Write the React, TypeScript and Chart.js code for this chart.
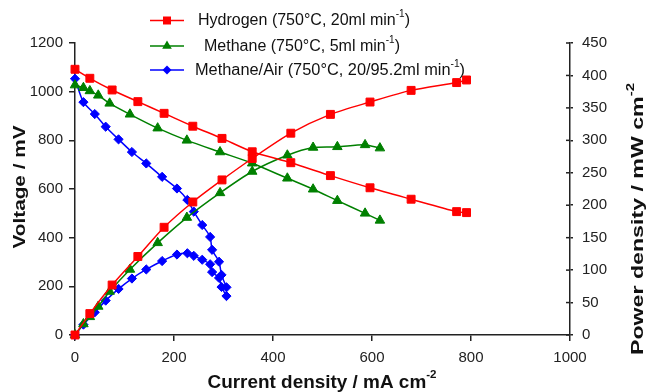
import React, { useEffect, useRef } from "react";
import { Chart, registerables } from "chart.js";

Chart.register(...registerables);

// ---- Data ----
const h2Current = [0, 30, 75, 127, 180, 238, 297, 358, 436, 516, 596, 679, 771, 791];
const h2Voltage = [1092, 1055, 1007, 959, 911, 858, 808, 753, 708, 655, 605, 558, 507, 503];
const h2Power = [0, 33, 77, 121, 166, 205, 239, 272, 311, 340, 359, 377, 389, 393];

const ch4Current = [0, 17, 30, 47, 70, 111, 167, 226, 293, 358, 429, 481, 530, 586, 616];
const ch4Voltage = [1027, 1016, 1003, 985, 952, 907, 850, 800, 752, 706, 644, 599, 552, 500, 471];
const ch4Power = [0, 17, 28, 44, 67, 101, 142, 181, 219, 252, 277, 289, 290, 293, 288];

const airCurrent = [0, 17, 40, 62, 88, 115, 144, 176, 206, 227, 240, 257, 273, 277, 291, 296, 306];
const airVoltage = [1053, 957, 908, 856, 804, 752, 705, 650, 602, 555, 507, 452, 403, 350, 301, 247, 196];
const airPower = [0, 16, 35, 53, 71, 87, 101, 114, 124, 126, 122, 116, 109, 97, 88, 74, 60];

const seriesNames = [
  "Hydrogen (750°C, 20ml min",
  "Methane (750°C, 5ml min",
  "Methane/Air (750°C, 20/95.2ml min",
];
const seriesColors = ["#ff0000", "#008000", "#0000ff"];

const xTitle = "Current density / mA cm";
const yTitle = "Voltage / mV";
const y2Title = "Power density / mW cm";

const FONT = "'Liberation Sans', Arial, Helvetica, sans-serif";
const AXIS = "#222";

type Seg = { t: string; sup?: boolean };

function drawRich(
  ctx: CanvasRenderingContext2D,
  segs: Seg[],
  size: number,
  bold: boolean,
  x: number,
  y: number,
  rot: number,
  align: "center" | "left",
  targetLen?: number
) {
  const w = bold ? "bold " : "";
  let total = 0;
  const widths: number[] = [];
  for (const s of segs) {
    ctx.font = `${w}${s.sup ? Math.round(size * 0.62) : size}px ${FONT}`;
    const mw = ctx.measureText(s.t).width;
    widths.push(mw);
    total += mw;
  }
  const sx = targetLen ? targetLen / total : 1;
  ctx.save();
  ctx.translate(x, y);
  ctx.rotate(rot);
  ctx.scale(sx, 1);
  ctx.textBaseline = "middle";
  ctx.textAlign = "left";
  ctx.fillStyle = "#111";
  let cx = align === "center" ? -total / 2 : 0;
  segs.forEach((s, i) => {
    ctx.font = `${w}${s.sup ? Math.round(size * 0.62) : size}px ${FONT}`;
    ctx.fillText(s.t, cx, s.sup ? -size * 0.42 : 0);
    cx += widths[i];
  });
  ctx.restore();
}

function drawMarker(ctx: CanvasRenderingContext2D, kind: number, x: number, y: number, color: string) {
  ctx.save();
  ctx.fillStyle = color;
  ctx.beginPath();
  if (kind === 0) {
    ctx.rect(x - 4, y - 4, 8, 8);
  } else if (kind === 1) {
    ctx.moveTo(x, y - 5.5);
    ctx.lineTo(x + 4.8, y + 2.8);
    ctx.lineTo(x - 4.8, y + 2.8);
    ctx.closePath();
  } else {
    ctx.moveTo(x, y - 4.5);
    ctx.lineTo(x + 4.5, y);
    ctx.lineTo(x, y + 4.5);
    ctx.lineTo(x - 4.5, y);
    ctx.closePath();
  }
  ctx.fill();
  ctx.restore();
}

const overlay = {
  id: "overlay",
  afterDraw(chart: any) {
    const ctx: CanvasRenderingContext2D = chart.ctx;
    const area = chart.chartArea;

    // inward tick marks on the right axis
    const y2 = chart.scales.y2;
    ctx.save();
    ctx.strokeStyle = AXIS;
    ctx.lineWidth = 1.5;
    y2.ticks.forEach((t: any) => {
      const py = y2.getPixelForValue(t.value);
      ctx.beginPath();
      ctx.moveTo(area.right - 4, py);
      ctx.lineTo(area.right, py);
      ctx.stroke();
    });
    ctx.restore();

    // legend
    const legendY = [20.5, 46, 70];
    const legendTextX = [198, 204, 195];
    const legendLen = [212, 196, 270];
    seriesNames.forEach((name, i) => {
      const ly = legendY[i];
      ctx.save();
      ctx.strokeStyle = seriesColors[i];
      ctx.lineWidth = 1.5;
      ctx.beginPath();
      ctx.moveTo(150, ly);
      ctx.lineTo(184, ly);
      ctx.stroke();
      ctx.restore();
      drawMarker(ctx, i, 167, ly, seriesColors[i]);
      drawRich(
        ctx,
        [{ t: name }, { t: "-1", sup: true }, { t: ")" }],
        16,
        false,
        legendTextX[i],
        ly + 0.5,
        0,
        "left",
        legendLen[i]
      );
    });

    // axis titles
    drawRich(ctx, [{ t: yTitle }], 17, true, 20, 187, -Math.PI / 2, "center", 123);
    drawRich(ctx, [{ t: xTitle }, { t: "-2", sup: true }], 18, true, 322, 383, 0, "center", 229);
    drawRich(ctx, [{ t: y2Title }, { t: "-2", sup: true }], 17, true, 638, 219, -Math.PI / 2, "center", 272);
  },
};

const pts = (xs: number[], ys: number[]) => xs.map((x, i) => ({ x, y: ys[i] }));

function ds(label: string, xs: number[], ys: number[], idx: number, axis: string) {
  const styles = ["rect", "triangle", "rectRot"];
  const radii = [5.6, 5.5, 4.6];
  return {
    label,
    data: pts(xs, ys),
    yAxisID: axis,
    borderColor: seriesColors[idx],
    backgroundColor: seriesColors[idx],
    borderWidth: 1.5,
    pointStyle: styles[idx],
    pointRadius: radii[idx],
    pointHoverRadius: radii[idx],
    pointBorderWidth: 1,
    tension: 0.25,
    clip: false as any,
  };
}

const plain = (v: any) => String(v);

export default function App() {
  const ref = useRef<HTMLCanvasElement | null>(null);

  useEffect(() => {
    if (!ref.current) return;
    const tickFont = { family: FONT, size: 15 };
    const grid = {
      drawOnChartArea: false,
      drawTicks: true,
      tickLength: 6,
      color: AXIS,
      lineWidth: 1.5,
    };
    const border = { color: AXIS, width: 1.5 };
    const chart = new Chart(ref.current, {
      type: "line",
      data: {
        datasets: [
          ds("H2 V", h2Current, h2Voltage, 0, "y"),
          ds("H2 P", h2Current, h2Power, 0, "y2"),
          ds("CH4 V", ch4Current, ch4Voltage, 1, "y"),
          ds("CH4 P", ch4Current, ch4Power, 1, "y2"),
          ds("Air V", airCurrent, airVoltage, 2, "y"),
          ds("Air P", airCurrent, airPower, 2, "y2"),
        ] as any,
      },
      options: {
        responsive: false,
        animation: false,
        devicePixelRatio: 1,
        layout: { padding: { top: 43, left: 0, right: 0, bottom: 0 } },
        plugins: { legend: { display: false }, tooltip: { enabled: false } },
        scales: {
          x: {
            type: "linear",
            min: 0,
            max: 1000,
            ticks: { stepSize: 200, font: tickFont, color: AXIS, padding: 8, maxRotation: 0, callback: plain },
            grid,
            border,
            afterFit: (s: any) => {
              s.height = 57;
            },
          },
          y: {
            type: "linear",
            position: "left",
            min: 0,
            max: 1200,
            ticks: { stepSize: 200, font: tickFont, color: AXIS, padding: 6, callback: plain },
            grid,
            border,
            afterFit: (s: any) => {
              s.width = 75;
            },
          },
          y2: {
            type: "linear",
            position: "right",
            min: 0,
            max: 450,
            ticks: { stepSize: 50, font: tickFont, color: AXIS, padding: 9, callback: plain },
            grid: { ...grid, tickLength: 3 },
            border,
            afterFit: (s: any) => {
              s.width = 78;
            },
          },
        },
      } as any,
      plugins: [overlay],
    });
    return () => chart.destroy();
  }, []);

  return (
    <div style={{ position: "fixed", left: 0, top: 0, width: 648, height: 392, background: "#fff" }}>
      <canvas ref={ref} width={648} height={392} style={{ width: 648, height: 392 }} />
    </div>
  );
}
